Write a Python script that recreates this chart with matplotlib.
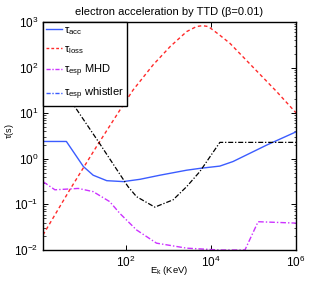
import matplotlib
matplotlib.use("Agg")
import matplotlib.pyplot as plt
import numpy as np
from matplotlib.lines import Line2D
from matplotlib.ticker import LogLocator, NullLocator, LogFormatterMathtext

plt.rcParams['font.family'] = ['Liberation Sans', 'DejaVu Sans']
plt.rcParams['mathtext.fontset'] = 'custom'
plt.rcParams['mathtext.rm'] = 'Liberation Sans'
plt.rcParams['mathtext.it'] = 'Liberation Sans'

# log10 of energy (KeV) and log10 of timescale (s)
acc_logE = [0.05, 0.60, 1.00, 1.23, 1.55, 1.94, 2.33, 2.80, 3.43, 3.74, 4.21, 4.52, 5.31, 6.00]
acc_logT = [0.38, 0.38, -0.17, -0.36, -0.48, -0.50, -0.45, -0.36, -0.25, -0.21, -0.16, -0.06, 0.30, 0.59]

loss_logE = [0.05, 0.68, 1.31, 1.86, 2.17, 2.64, 3.04, 3.43, 3.66, 3.80, 3.94, 4.21, 4.45, 5.55, 6.00]
loss_logT = [-1.67, -0.68, 0.27, 1.07, 1.51, 2.06, 2.46, 2.79, 2.90, 2.92, 2.90, 2.71, 2.53, 1.47, 1.01]

mhd_logE = [0.05, 0.33, 0.88, 1.23, 1.62, 1.86, 2.25, 2.72, 3.43, 4.21, 4.80, 5.11, 6.00]
mhd_logT = [-0.50, -0.68, -0.65, -0.72, -0.94, -1.20, -1.56, -1.85, -1.96, -2.00, -2.00, -1.38, -1.41]

wh_logE = [0.05, 0.80, 1.35, 2.05, 2.25, 2.68, 3.11, 3.43, 3.74, 4.21, 6.00]
wh_logT = [2.19, 1.14, 0.38, -0.61, -0.83, -1.06, -0.90, -0.61, -0.28, 0.36, 0.36]

labels = [r'$\tau_{\rm acc}$', r'$\tau_{\rm loss}$', r'$\tau_{\rm esp}$ MHD', r'$\tau_{\rm esp}$ whistler']
title = 'electron acceleration by TTD (\u03b2=0.01)'

blue = '#3b5cff'
red = '#ff2a2a'
mag = '#cc33ff'

fig = plt.figure(figsize=(3.27, 2.82), dpi=100)
ax = fig.add_axes([0.1315, 0.1135, 0.7735, 0.8085])

def p(v):
    return 10.0 ** np.asarray(v)

ax.plot(p(acc_logE), p(acc_logT), '-', color=blue, lw=1.0)
ax.plot(p(loss_logE), p(loss_logT), '--', color=red, lw=1.0, dashes=(2.5, 2))
ax.plot(p(mhd_logE), p(mhd_logT), '-.', color=mag, lw=1.0, dashes=(4, 1.5, 1, 1.5))
ax.plot(p(wh_logE), p(wh_logT), '-.', color='black', lw=0.9, dashes=(4, 1.5, 1, 1.5))

ax.set_xscale('log')
ax.set_yscale('log')
ax.set_xlim(10 ** 0.05, 1e6)
ax.set_ylim(1e-2, 1e3)

ax.xaxis.set_major_locator(LogLocator(base=100.0))
ax.xaxis.set_minor_locator(NullLocator())
ax.yaxis.set_major_locator(LogLocator(base=10.0))
ax.yaxis.set_minor_locator(LogLocator(base=10.0, subs=np.arange(2, 10)))
ax.xaxis.set_major_formatter(LogFormatterMathtext())
ax.yaxis.set_major_formatter(LogFormatterMathtext())
ax.tick_params(which='both', direction='in', top=True, right=True, labelsize=8.5)
ax.tick_params(which='major', length=3.5, width=0.7)
ax.tick_params(which='minor', length=1.8, width=0.5)
for s in ax.spines.values():
    s.set_linewidth(1.0)

ax.set_title(title, fontsize=8, pad=5)
ax.set_xlabel(r'E$_{\rm k}$ (KeV)', fontsize=6.8)
ax.set_ylabel(r'$\tau$(s)', fontsize=6.5)
ax.xaxis.set_label_coords(0.5, -0.062)
ax.yaxis.set_label_coords(-0.105, 0.52)

handles = [
    Line2D([], [], color=blue, lw=1.0, ls='-'),
    Line2D([], [], color=red, lw=1.0, ls='--', dashes=(2, 1.5)),
    Line2D([], [], color=mag, lw=1.0, ls='-.', dashes=(3, 1.2, 1, 1.2)),
    Line2D([], [], color=blue, lw=1.0, ls='-.', dashes=(3, 1.2, 1, 1.2)),
]
leg = ax.legend(handles, labels, loc='upper left', fontsize=8, frameon=True,
                fancybox=False, edgecolor='black', framealpha=1,
                borderaxespad=0, handlelength=1.4, handletextpad=0.15,
                labelspacing=0.62, borderpad=0.3)
leg.get_frame().set_linewidth(1.0)

fig.savefig('out.png', dpi=100)
